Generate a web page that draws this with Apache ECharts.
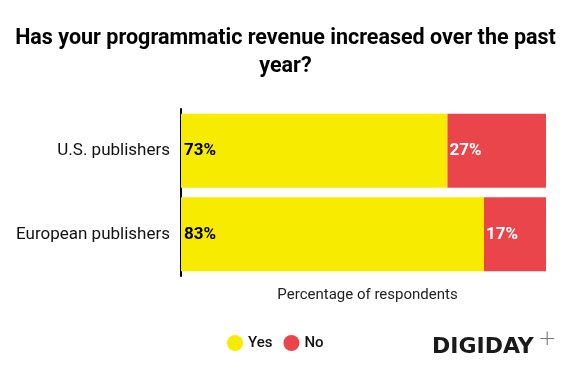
<!DOCTYPE html>
<html><head><meta charset="utf-8">
<script src="https://cdn.jsdelivr.net/npm/echarts@6/dist/echarts.min.js"></script>
<style>html,body{margin:0;padding:0;background:#fff}#c{width:571px;height:365px}</style>
</head><body><div id="c"></div>
<script>
const categories = ['U.S. publishers', 'European publishers'];
const yesValues = [73, 83];
const noValues = [27, 17];
const seriesNames = ['Yes', 'No'];
const titleText = 'Has your programmatic revenue increased over the past\nyear?';
const axisName = 'Percentage of respondents';

const chart = echarts.init(document.getElementById('c'), null, {renderer: 'canvas'});
const font = 'Roboto';
chart.setOption({
  animation: false,
  textStyle: {fontFamily: font},
  legend: {
    data: seriesNames, left: 222, top: 330, icon: 'circle', itemWidth: 16, itemHeight: 16, itemGap: 11,
    textStyle: {fontFamily: font, fontSize: 15, fontWeight: 500, color: '#111', padding: [0,0,0,0]}
  },
  grid: {left: 181, right: 25, top: 109, bottom: 89, containLabel: false},
  xAxis: {
    type: 'value', min: 0, max: 100, show: true,
    axisLine: {show: false}, axisTick: {show: false}, axisLabel: {show: false}, splitLine: {show: false},
    name: axisName, nameLocation: 'middle', nameGap: 12,
    nameTextStyle: {fontFamily: font, fontSize: 15, color: '#222', padding: [0, 0, 0, 8]}
  },
  yAxis: {
    type: 'category', data: categories, inverse: true,
    axisLine: {show: true, lineStyle: {color: '#000', width: 2}},
    axisTick: {show: false},
    axisLabel: {fontFamily: font, fontSize: 17, color: '#111', margin: 11}
  },
  series: [
    {name: 'Yes', type: 'bar', stack: 's', data: yesValues, barWidth: 74,
     itemStyle: {color: '#F7EC00'},
     label: {show: true, position: 'insideLeft', distance: 3, formatter: '{c}%', fontFamily: font, fontWeight: 'bold', fontSize: 17, color: '#000'}},
    {name: 'No', type: 'bar', stack: 's', data: noValues, barWidth: 74,
     itemStyle: {color: '#EB454C'},
     label: {show: true, position: 'insideLeft', distance: 2, formatter: '{c}%', fontFamily: font, fontWeight: 'bold', fontSize: 17, color: '#fff'}}
  ],
  graphic: [
    {type: 'text', x: 285.5, y: 25, style: {text: titleText, font: 'bold 21.5px Roboto', fill: '#000', align: 'center', lineHeight: 28}},
    {type: 'text', left: 432, top: 336, style: {text: 'DIGIDAY', font: 'bold 22px "DejaVu Sans"', fill: '#1a1a1a'}},
    {type: 'text', left: 538, top: 328, style: {text: '+', font: '200 22px "DejaVu Sans"', fill: '#777'}}
  ]
});
</script></body></html>
